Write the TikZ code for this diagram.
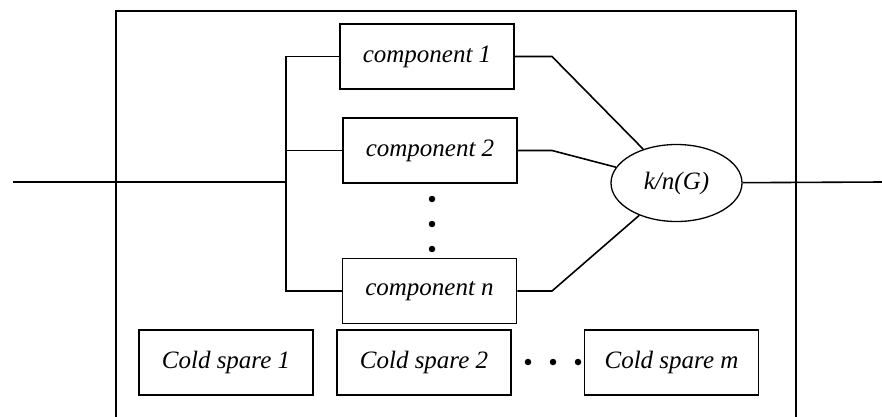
\documentclass[tikz,border=0pt]{standalone}
\usepackage{fontspec}
\setmainfont{Liberation Serif}
\usepackage{tikz}
\usetikzlibrary{shapes.geometric}
\usetikzlibrary{positioning}

\begin{document}
\begin{tikzpicture}[x=1pt,y=-1pt,
  line width=1.6pt,
  box/.style = {draw,rectangle,inner sep=0pt,minimum width=174pt,minimum height=65pt,
        font=\fontsize{25}{30}\selectfont\itshape,align=center},
  vote/.style = {draw,ellipse,inner sep=0pt,line width=1.3pt,minimum width=131pt,minimum height=77pt,
        font=\fontsize{25}{30}\selectfont\itshape},
  dot/.style = {circle,fill,inner sep=0pt,minimum size=6.5pt}]
 \useasboundingbox (0,0) rectangle (882,416);
 \draw[line width=2pt] (116,11) rectangle (796,440);
 \node[box] (c1) at (427,56.5)  {component 1};
 \node[box] (c2) at (430,150.5) {component 2};
 \node[box] (cn) at (429.5,291) {component n};
 \node[vote] (kn) at (676.5,183) {k/n(G)};
 \node[box] (s1) at (226,362.5) {Cold spare 1};
 \node[box] (s2) at (424,362.5) {Cold spare 2};
 \node[box] (sm) at (671.5,362.5) {Cold spare m};
 %\node[box,right=72pt of s2] (sm) {Cold spare m};
 \foreach \y in {199,224,249} \node[dot] at (432,\y) {};
 \foreach \x in {528,553,578} \node[dot] at (\x,362) {};
 \coordinate (in) at (13,182);
 \coordinate (out) at (882,182);
 \coordinate (bus) at (286,182);
 \coordinate (bend) at (552,182);
 \draw (in) -- (bus);
 \draw (c1.west) -| (bus) |- (cn.west);
 \draw (c2.west) -- (c2.west -| bus);
 \draw (c1.east) -- (c1.east -| bend) -- (kn);
 \draw (c2.east) -- (c2.east -| bend) -- (kn);
 \draw (cn.east) -- (cn.east -| bend) -- (kn);
 \draw (kn) -- (out);
\end{tikzpicture}
\end{document}
